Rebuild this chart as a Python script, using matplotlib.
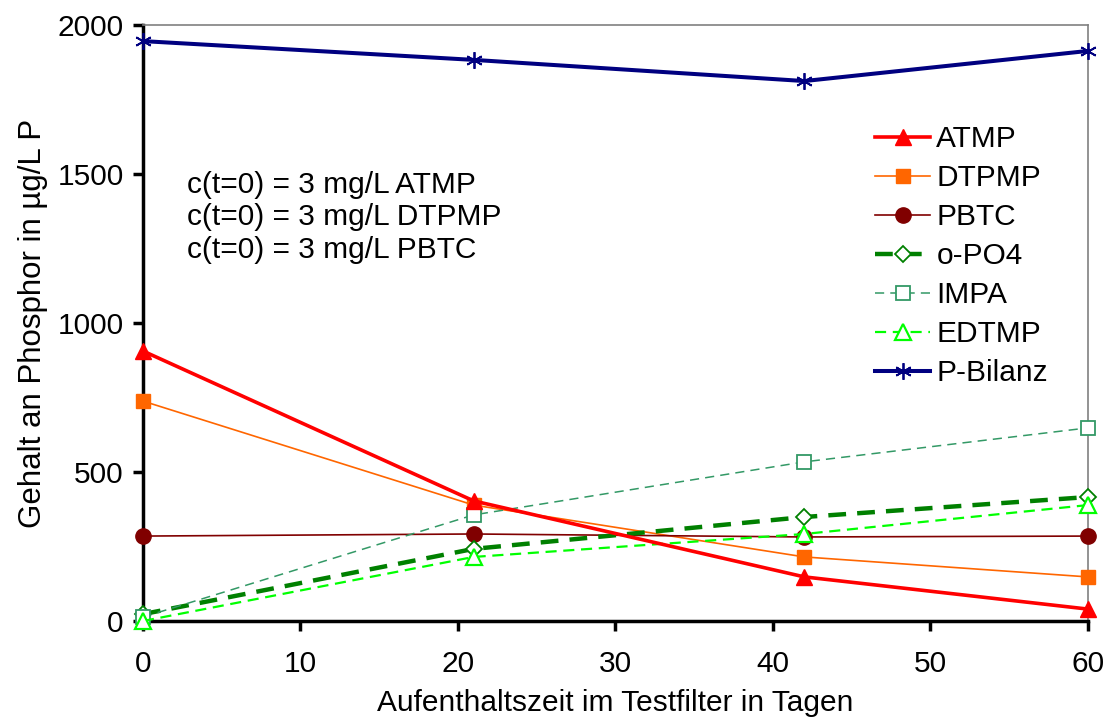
import matplotlib
matplotlib.use("Agg")
import matplotlib.pyplot as plt

plt.rcParams['font.family'] = ['Liberation Sans', 'DejaVu Sans']

days = [0, 21, 42, 60]
atmp = [906, 403, 148, 40]
dtpmp = [738, 389, 215, 148]
pbtc = [285, 292, 282, 285]
opo4 = [23, 242, 349, 416]
impa = [13, 356, 534, 648]
edtmp = [0, 215, 292, 389]
pbilanz = [1946, 1883, 1812, 1913]

xticks = [0, 10, 20, 30, 40, 50, 60]
yticks = [0, 500, 1000, 1500, 2000]

FS = 21.5

fig = plt.figure(figsize=(11.1, 7.19), dpi=100)
ax = fig.add_axes([0.1288, 0.1363, 0.8512, 0.8289])

ax.plot(days, atmp, color='#FF0000', lw=2.6, marker='^', ms=11, mfc='#FF0000', mec='#FF0000', label='ATMP', zorder=5, clip_on=False)
ax.plot(days, dtpmp, color='#FF6600', lw=1.2, marker='s', ms=10, mfc='#FF6600', mec='#FF6600', label='DTPMP', zorder=4, clip_on=False)
ax.plot(days, pbtc, color='#800000', lw=1.2, marker='o', ms=11, mfc='#800000', mec='#800000', label='PBTC', zorder=4, clip_on=False)
ax.plot(days, opo4, color='#008000', lw=3.2, ls=(0, (4, 2.5)), marker='D', ms=8, mfc='white', mec='#008000', mew=1.3, label='o-PO4', zorder=4, clip_on=False)
ax.plot(days, impa, color='#339966', lw=1.1, ls=(0, (6, 4)), marker='s', ms=10, mfc='white', mec='#339966', mew=1.3, label='IMPA', zorder=4, clip_on=False)
ax.plot(days, edtmp, color='#00FF00', lw=1.6, ls=(0, (5, 3)), marker='^', ms=11, mfc='white', mec='#00FF00', mew=1.6, label='EDTMP', zorder=4, clip_on=False)
ax.plot(days, pbilanz, color='#000080', lw=2.9, marker=(6, 2, 0), ms=12, mec='#000080', mew=1.3, label='P-Bilanz', zorder=5, clip_on=False)

ax.set_xlim(0, 60)
ax.set_ylim(0, 2000)
ax.set_xticks(xticks)
ax.set_yticks(yticks)
ax.tick_params(axis='both', labelsize=FS, direction='out', length=7, width=2.5, colors='black')
ax.tick_params(axis='x', pad=14)
ax.tick_params(axis='y', pad=7)

for s in ['left', 'bottom']:
    ax.spines[s].set_linewidth(2.5)
    ax.spines[s].set_color('black')
for s in ['top', 'right']:
    ax.spines[s].set_linewidth(1.2)
    ax.spines[s].set_color('#808080')

ax.set_xlabel('Aufenthaltszeit im Testfilter in Tagen', fontsize=FS, labelpad=8)
ax.set_ylabel('Gehalt an Phosphor in µg/L P', fontsize=22.5, labelpad=7)

ax.text(0.047, 0.755, 'c(t=0) = 3 mg/L ATMP\nc(t=0) = 3 mg/L DTPMP\nc(t=0) = 3 mg/L PBTC',
        transform=ax.transAxes, fontsize=FS, va='top', ha='left', linespacing=1.2)

leg = ax.legend(loc='upper left', bbox_to_anchor=(0.775, 0.832), frameon=False, fontsize=FS,
                handlelength=1.85, handletextpad=0.2, labelspacing=0.37, borderaxespad=0,
                borderpad=0)

fig.savefig('out.png', dpi=100)
